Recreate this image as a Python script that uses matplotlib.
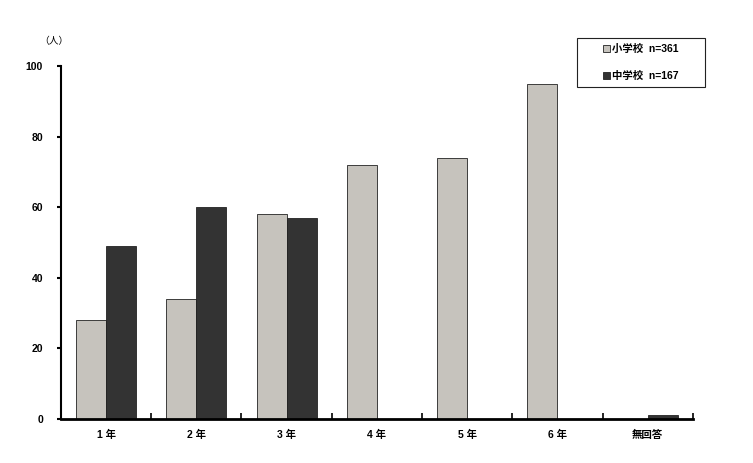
import numpy as np
import matplotlib.pyplot as plt
from matplotlib.patches import Patch, Rectangle

plt.rcParams['font.family'] = ['Liberation Sans', 'Noto Sans CJK JP', 'DejaVu Sans']

categories = ['1 年', '2 年', '3 年', '4 年', '5 年', '6 年', '無回答']
elementary = [28, 34, 58, 72, 74, 95, 0]
junior = [49, 60, 57, 0, 0, 0, 1]
yticks = [0, 20, 40, 60, 80, 100]

light = '#c6c3bd'
dark = '#333333'

fig = plt.figure(figsize=(7.53, 4.63), dpi=100)
ax = fig.add_axes([0.081, 0.095, 0.839, 0.762])

x = np.arange(len(categories))
w = 1 / 3
ax.bar(x - w / 2, elementary, width=w, color=light, edgecolor='#222222', linewidth=0.6)
ax.bar(x + w / 2, junior, width=w, color=dark, edgecolor='#222222', linewidth=0.6)

ax.set_xlim(-0.5, len(categories) - 0.5)
ax.set_ylim(0, 100)
ax.set_yticks(yticks)
ax.set_yticklabels([str(v) for v in yticks], fontsize=7.5, fontweight='bold')
ax.set_xticks(x)
ax.set_xticklabels(categories, fontsize=7.5, fontweight='bold')
ax.tick_params(axis='x', length=0, pad=8)
ax.set_xticks(np.arange(len(categories) + 1) - 0.5, minor=True)
ax.tick_params(axis='x', which='minor', direction='in', length=4, width=1.2)
ax.tick_params(axis='y', direction='out', length=3, width=1.5, pad=10)

for s in ['top', 'right']:
    ax.spines[s].set_visible(False)
ax.spines['left'].set_linewidth(1.5)
ax.spines['bottom'].set_linewidth(2)

fig.text(0.071, 0.912, '（人）', fontsize=7, ha='center', va='center')

# legend box drawn separately to get the wide side padding
fig.patches.append(Rectangle((577 / 753, 1 - 87 / 463), 128 / 753, 49 / 463,
                             transform=fig.transFigure, facecolor='white',
                             edgecolor='#222222', linewidth=0.8))
handles = [Patch(facecolor=light, edgecolor='#222222', linewidth=0.6),
           Patch(facecolor=dark, edgecolor='#222222', linewidth=0.6)]
leg = fig.legend(handles, ['小学校  n=361', '中学校  n=167'],
                 loc='center left', bbox_to_anchor=(603 / 753, 1 - 62.5 / 463),
                 fontsize=7.5, frameon=False,
                 handlelength=0.7, handleheight=0.7, handletextpad=0.2,
                 labelspacing=1.6, borderpad=0, borderaxespad=0)
for t in leg.get_texts():
    t.set_fontweight('bold')

fig.savefig('out.png', dpi=100)
